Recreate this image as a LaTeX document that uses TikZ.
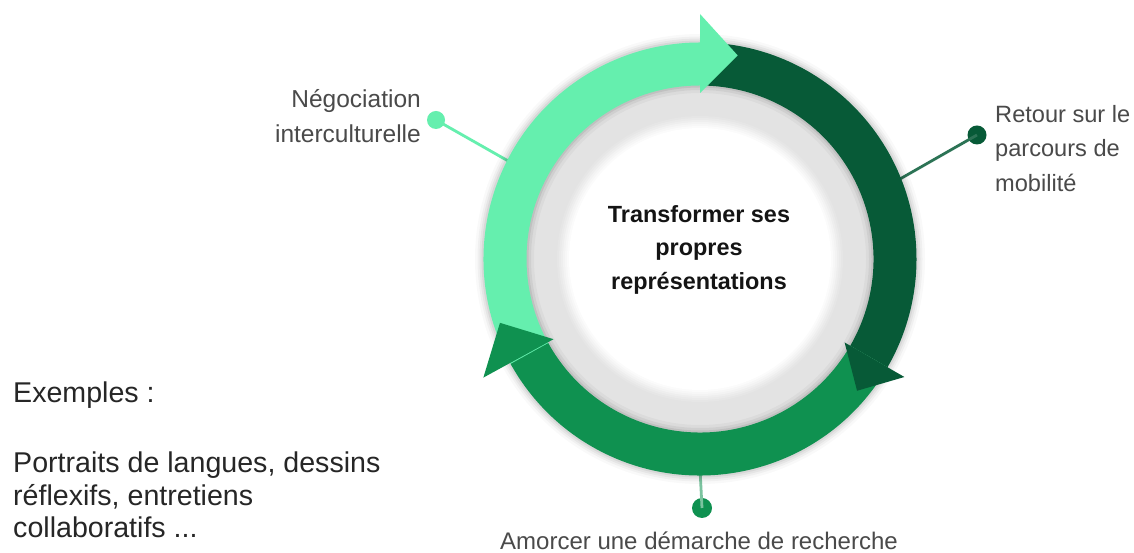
\documentclass[tikz,border=0pt]{standalone}
\usepackage{fontspec}
\setmainfont{Liberation Sans}
\definecolor{lightg}{HTML}{65EFAE}
\definecolor{darkg}{HTML}{075A37}
\definecolor{midg}{HTML}{0F9150}
\definecolor{ringgray}{HTML}{E3E3E3}
\definecolor{txtgray}{HTML}{4A4A4A}
\definecolor{txtdark}{HTML}{262626}
\begin{document}
\begin{tikzpicture}[x=1pt,y=1pt,
  dot/.style={circle,fill=#1,inner sep=0pt,minimum size=19pt},
  conn/.style={line width=2.8pt,#1},
  lbl/.style={inner sep=0pt,text=txtgray,font=\fontsize{24}{35}\selectfont},
  body/.style={fill=#1},
  head/.style={fill=#1}]
\useasboundingbox (0,0) rectangle (1134,553);
\fill[white] (0,0) rectangle (1134,553);

% named points on the ring
\begin{scope}[shift={(700,294)}]
  \coordinate (c) at (0,0);
  \coordinate (negoend) at (153:210);
  \coordinate (retourend) at (21.6:210);
  \coordinate (amorcerend) at (-90:210);
\end{scope}

% connectors and dots
\node[dot=lightg,minimum size=18pt] (negodot) at (436,433) {};
\node[dot=darkg] (retourdot) at (977,418) {};
\node[dot=midg,minimum size=20pt] (amorcerdot) at (702,45) {};
\draw[conn=lightg] (negodot.center) -- (negoend);
\draw[conn=darkg!85!white] (retourdot.center) -- (retourend);
\draw[conn=midg!55!white] (amorcerdot.center) -- (amorcerend);

\begin{scope}[shift={(700,294)}]
  % soft outer shadow
  \foreach \w/\o in {16/0.025,11/0.035,7/0.045,3/0.06}
    \draw[black,opacity=\o,line width=\w pt] (0,0) circle[radius=217];
  % grey ring with soft inner edge
  \fill[ringgray] (0,0) circle[radius=175];
  \foreach \r/\p in {143/12,141/25,139/40,137/55,135/70,133/85,131/100}
    \fill[white!\p!ringgray] (0,0) circle[radius=\r];
  % soft shadow under the coloured ring
  \foreach \w/\o in {16/0.03,10/0.05,5/0.07}
    \draw[black,opacity=\o,line width=\w pt] (0,0) circle[radius=174];
  % arc bodies
  \fill[body=lightg] (210:216.5) arc[start angle=210,end angle=90,radius=216.5]
     -- (90:173.5) arc[start angle=90,end angle=210,radius=173.5] -- cycle;
  \fill[body=darkg] (90:216.5) arc[start angle=90,end angle=-30,radius=216.5]
     -- (-30:173.5) arc[start angle=-30,end angle=90,radius=173.5] -- cycle;
  \fill[body=midg] (-30:216.5) arc[start angle=-30,end angle=-151,radius=216.5]
     -- (-151:173.5) arc[start angle=-151,end angle=-30,radius=173.5] -- cycle;
  % arrow heads
  \fill[head=lightg] (90:166) -- (90:245) -- (79.5:207) -- cycle;
  \fill[head=darkg] (-30:167) -- (-30:236) -- (-40:205) -- cycle;
  \fill[head=midg] (-151.3:167) -- (-151.3:247) -- (-162.3:210) -- cycle;
\end{scope}

% texts
\node[inner sep=0pt,align=center,anchor=north,text=black!92,
      font=\bfseries\fontsize{23.4}{33.5}\selectfont] (centre) at (699,348)
  {Transformer ses\\propres\\représentations};
\node[lbl,align=right,anchor=north east,font=\fontsize{24.5}{35}\selectfont] (nego) at (421,464)
  {Négociation\\interculturelle};
\node[lbl,align=left,anchor=north west,font=\fontsize{23.6}{34.5}\selectfont] (retour) at (995,448)
  {Retour sur le\\parcours de\\mobilité};
\node[lbl,anchor=base,font=\fontsize{24}{30}\selectfont] (amorcer) at (699,3)
  {Amorcer une démarche de recherche};
\node[inner sep=0pt,anchor=base west,text=txtdark,font=\fontsize{28.6}{32.5}\selectfont] (exemples) at (13,150)
  {Exemples :};
\node[inner sep=0pt,anchor=north west,align=left,text=txtdark,font=\fontsize{28.6}{32.5}\selectfont] (liste) at (13,101)
  {Portraits de langues, dessins\\réflexifs, entretiens\\collaboratifs ...};
\end{tikzpicture}
\end{document}
